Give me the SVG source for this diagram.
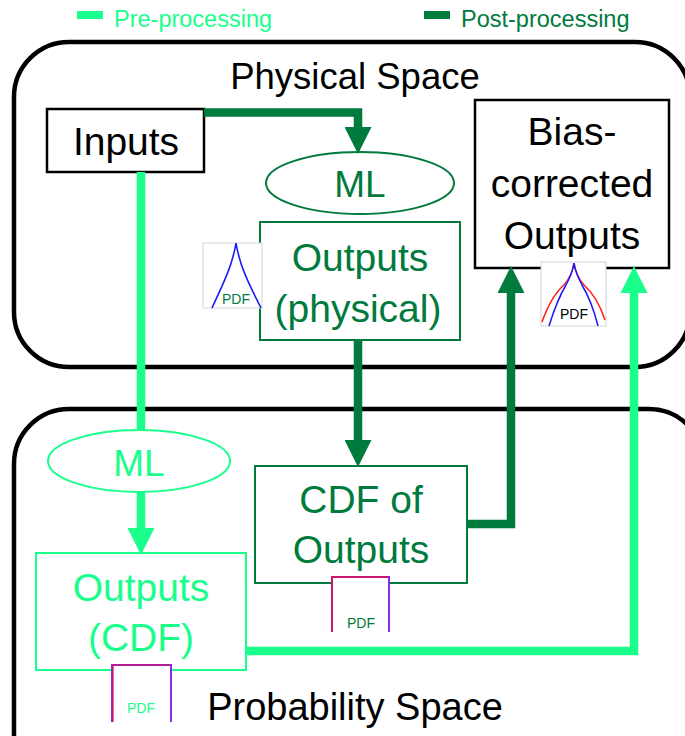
<svg xmlns="http://www.w3.org/2000/svg" width="685" height="736" viewBox="0 0 685 736">
<style>
.t{font-family:"Liberation Sans",Arial,sans-serif;text-anchor:middle}
.big{font-size:39px}
.blk{fill:#000}
.dg{fill:#007a3d}
.lg{fill:#1aff8c}
.cont{fill:none;stroke:#000;stroke-width:4.5}
.dline{fill:none;stroke:#007a3d;stroke-width:8.5;stroke-linejoin:miter}
.lline{fill:none;stroke:#1aff8c;stroke-width:8.5;stroke-linejoin:miter}
.frame{fill:#fff;stroke:#d4d4d4;stroke-width:1}
.pdf{font-family:"Liberation Sans",Arial,sans-serif;font-size:14px;text-anchor:middle}
</style>
<defs>
<marker id="ad" markerUnits="userSpaceOnUse" markerWidth="27" markerHeight="27" viewBox="0 0 26 26" refX="0" refY="13" orient="auto"><path d="M0,0 L26,13 L0,26 z" fill="#007a3d"/></marker>
<marker id="al" markerUnits="userSpaceOnUse" markerWidth="27" markerHeight="27" viewBox="0 0 26 26" refX="0" refY="13" orient="auto"><path d="M0,0 L26,13 L0,26 z" fill="#1aff8c"/></marker>
</defs>
<rect width="685" height="736" fill="#fff"/>
<g id="legend">
<rect x="77" y="11" width="26" height="8" fill="#1aff8c"/>
<text x="114" y="27" font-family="Liberation Sans, Arial, sans-serif" font-size="23.5" class="lg">Pre-processing</text>
<rect x="424" y="11" width="26" height="8" fill="#007a3d"/>
<text x="461" y="27" font-family="Liberation Sans, Arial, sans-serif" font-size="23.5" class="dg">Post-processing</text>
</g>
<g id="physical-space">
<rect class="cont" x="14" y="42" width="676" height="325" rx="55"/>
<text class="t blk" x="355" y="89" font-size="36.5">Physical Space</text>
</g>
<g id="probability-space">
<rect class="cont" x="14" y="409" width="690" height="380" rx="55"/>
<text class="t blk" x="355" y="720" font-size="38">Probability Space</text>
</g>
<g id="inputs">
<rect x="47" y="109" width="157" height="63" fill="#fff" stroke="#000" stroke-width="2.5"/>
<text class="t big blk" x="126" y="155">Inputs</text>
</g>
<g id="ml-physical">
<ellipse cx="360" cy="183" rx="94" ry="31" fill="#fff" stroke="#007a3d" stroke-width="2"/>
<text class="t dg" x="360" y="197" font-size="37">ML</text>
</g>
<g id="outputs-physical">
<rect x="260" y="222" width="200" height="118" fill="#fff" stroke="#007a3d" stroke-width="2"/>
<text class="t big dg" x="360" y="271">Outputs</text>
<text class="t big dg" x="358" y="322">(physical)</text>
<rect class="frame" x="203" y="243" width="59" height="65"/>
<path d="M212,308 C220,290 228,275 232,260 Q235,250 236,243 Q237,250 240,260 C244,275 252,290 260,306 L261,308" fill="none" stroke="#1a1aff" stroke-width="1.6"/>
<text class="pdf dg" x="236" y="304">PDF</text>
</g>
<g id="bias-corrected">
<rect x="475" y="100" width="194" height="168" fill="#fff" stroke="#000" stroke-width="2.5"/>
<text class="t big blk" x="572" y="145">Bias-</text>
<text class="t big blk" x="572" y="197">corrected</text>
<text class="t big blk" x="572" y="249">Outputs</text>
<rect class="frame" x="541" y="262" width="65" height="64"/>
<path d="M542,322 C548,305 556,292 564,285 C570,278 573,270 574,263 C575,270 578,278 584,285 C592,292 600,305 605,320" fill="none" stroke="#ff1a1a" stroke-width="1.5"/>
<path d="M549,326 C554,310 560,295 566,285 C571,276 573,270 574,263 C575,270 577,276 582,285 C588,295 594,310 598,326" fill="none" stroke="#1a1aff" stroke-width="1.5"/>
<text class="pdf blk" x="574" y="319">PDF</text>
</g>
<g id="cdf-of-outputs">
<rect x="255" y="466" width="212" height="117" fill="#fff" stroke="#007a3d" stroke-width="2"/>
<text class="t big dg" x="361" y="513">CDF of</text>
<text class="t big dg" x="361" y="563">Outputs</text>
<rect x="332" y="577" width="57" height="55" fill="#fff"/>
<path d="M332,632 V577 H389 V632" fill="none" stroke="#8a2be2" stroke-width="2"/>
<path d="M332,632 V577 H388" fill="none" stroke="#e0104a" stroke-width="1.5"/>
<text class="pdf dg" x="361" y="628">PDF</text>
</g>
<g id="ml-probability">
<ellipse cx="139" cy="461" rx="91" ry="31" fill="#fff" stroke="#1aff8c" stroke-width="2"/>
<text class="t lg" x="139" y="476" font-size="37">ML</text>
</g>
<g id="outputs-cdf">
<rect x="36" y="553" width="210" height="117" fill="#fff" stroke="#1aff8c" stroke-width="2"/>
<text class="t big lg" x="141" y="601">Outputs</text>
<text class="t big lg" x="141" y="651">(CDF)</text>
<rect x="112" y="665" width="59" height="57" fill="#fff"/>
<path d="M112,722 V665 H171 V722" fill="none" stroke="#8a2be2" stroke-width="2"/>
<path d="M113,722 V665 H170" fill="none" stroke="#e0104a" stroke-width="1.2"/>
<text class="pdf lg" x="141" y="713">PDF</text>
</g>
<g id="connectors">
<path class="dline" d="M204,112.5 H358 V127" marker-end="url(#ad)"/>
<path class="dline" d="M358,340 V440" marker-end="url(#ad)"/>
<path class="dline" d="M467,524 H511 V293" marker-end="url(#ad)"/>
<path class="lline" d="M141,172 V430"/>
<path class="lline" d="M141,492 V528" marker-end="url(#al)"/>
<path class="lline" d="M246,651 H634 V293" marker-end="url(#al)"/>
</g>
</svg>
